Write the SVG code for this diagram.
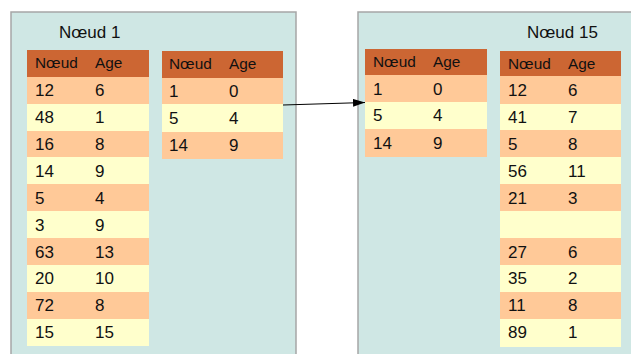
<svg xmlns="http://www.w3.org/2000/svg" width="631" height="354" viewBox="0 0 631 354">
<defs>
<style>
.panel{fill:#cfe7e4;stroke:#a6a6a6;stroke-width:1.5}
.hd{fill:#cc6633}
.o{fill:#ffc998}
.y{fill:#ffffcc}
text{font-family:"Liberation Sans",Arial,sans-serif;fill:#111}
.t{font-size:17px}
.h{font-size:15.4px}
.d{font-size:17px}
.conn{stroke:#000;stroke-width:1;fill:none}
</style>
<marker id="arr" markerWidth="12" markerHeight="8" refX="12" refY="4" orient="auto" markerUnits="userSpaceOnUse">
<path d="M0,0 L12,4 L0,8 Z" fill="#000"/>
</marker>
</defs>

<g id="node1">
<rect class="panel" x="11" y="12" width="285" height="360"/>
<text class="t" x="59" y="38">Nœud 1</text>
</g>

<g id="table1">
<rect class="hd" x="27" y="50" width="122" height="27"/>
<text class="h" x="35" y="68">Nœud</text><text class="h" x="95" y="68">Age</text>
<rect class="o" x="27" y="77" width="122" height="27"/>
<rect class="y" x="27" y="104" width="122" height="27"/>
<rect class="o" x="27" y="131" width="122" height="26"/>
<rect class="y" x="27" y="157" width="122" height="27"/>
<rect class="o" x="27" y="184" width="122" height="27"/>
<rect class="y" x="27" y="211" width="122" height="27"/>
<rect class="o" x="27" y="238" width="122" height="27"/>
<rect class="y" x="27" y="265" width="122" height="27"/>
<rect class="o" x="27" y="292" width="122" height="27"/>
<rect class="y" x="27" y="319" width="122" height="27"/>
<text class="d" x="35" y="96">12</text><text class="d" x="95" y="96">6</text>
<text class="d" x="35" y="123">48</text><text class="d" x="95" y="123">1</text>
<text class="d" x="35" y="150">16</text><text class="d" x="95" y="150">8</text>
<text class="d" x="35" y="177">14</text><text class="d" x="95" y="177">9</text>
<text class="d" x="35" y="204">5</text><text class="d" x="95" y="204">4</text>
<text class="d" x="35" y="231">3</text><text class="d" x="95" y="231">9</text>
<text class="d" x="35" y="258">63</text><text class="d" x="95" y="258">13</text>
<text class="d" x="35" y="284">20</text><text class="d" x="95" y="284">10</text>
<text class="d" x="35" y="311">72</text><text class="d" x="95" y="311">8</text>
<text class="d" x="35" y="338">15</text><text class="d" x="95" y="338">15</text>
</g>

<g id="table2">
<rect class="hd" x="162" y="51" width="121" height="27"/>
<text class="h" x="169" y="69">Nœud</text><text class="h" x="229" y="69">Age</text>
<rect class="o" x="162" y="78" width="121" height="26"/>
<rect class="y" x="162" y="104" width="121" height="28"/>
<rect class="o" x="162" y="132" width="121" height="27"/>
<text class="d" x="169" y="97">1</text><text class="d" x="229" y="97">0</text>
<text class="d" x="169" y="124">5</text><text class="d" x="229" y="124">4</text>
<text class="d" x="169" y="151">14</text><text class="d" x="229" y="151">9</text>
</g>

<g id="node15">
<rect class="panel" x="358" y="12" width="290" height="360"/>
<text class="t" x="527" y="38">Nœud 15</text>
</g>

<g id="table3">
<rect class="hd" x="365" y="49" width="122" height="26"/>
<text class="h" x="373" y="67">Nœud</text><text class="h" x="433" y="67">Age</text>
<rect class="o" x="365" y="75" width="122" height="27"/>
<rect class="y" x="365" y="102" width="122" height="27"/>
<rect class="o" x="365" y="129" width="122" height="28"/>
<text class="d" x="373" y="95">1</text><text class="d" x="433" y="95">0</text>
<text class="d" x="373" y="121">5</text><text class="d" x="433" y="121">4</text>
<text class="d" x="373" y="149">14</text><text class="d" x="433" y="149">9</text>
</g>

<g id="table4">
<rect class="hd" x="500" y="51" width="121" height="25"/>
<text class="h" x="508" y="69">Nœud</text><text class="h" x="568" y="69">Age</text>
<rect class="o" x="500" y="76" width="121" height="28"/>
<rect class="y" x="500" y="104" width="121" height="26"/>
<rect class="o" x="500" y="130" width="121" height="27"/>
<rect class="y" x="500" y="157" width="121" height="27"/>
<rect class="o" x="500" y="184" width="121" height="27"/>
<rect class="y" x="500" y="211" width="121" height="27"/>
<rect class="o" x="500" y="238" width="121" height="27"/>
<rect class="y" x="500" y="265" width="121" height="27"/>
<rect class="o" x="500" y="292" width="121" height="27"/>
<rect class="y" x="500" y="319" width="121" height="28"/>
<text class="d" x="508" y="96">12</text><text class="d" x="568" y="96">6</text>
<text class="d" x="508" y="123">41</text><text class="d" x="568" y="123">7</text>
<text class="d" x="508" y="150">5</text><text class="d" x="568" y="150">8</text>
<text class="d" x="508" y="177">56</text><text class="d" x="568" y="177">11</text>
<text class="d" x="508" y="204">21</text><text class="d" x="568" y="204">3</text>
<text class="d" x="508" y="258">27</text><text class="d" x="568" y="258">6</text>
<text class="d" x="508" y="284">35</text><text class="d" x="568" y="284">2</text>
<text class="d" x="508" y="311">11</text><text class="d" x="568" y="311">8</text>
<text class="d" x="508" y="338">89</text><text class="d" x="568" y="338">1</text>
</g>

<g id="connectors">
<line class="conn" x1="283" y1="105" x2="365" y2="102.5" marker-end="url(#arr)"/>
</g>
</svg>
